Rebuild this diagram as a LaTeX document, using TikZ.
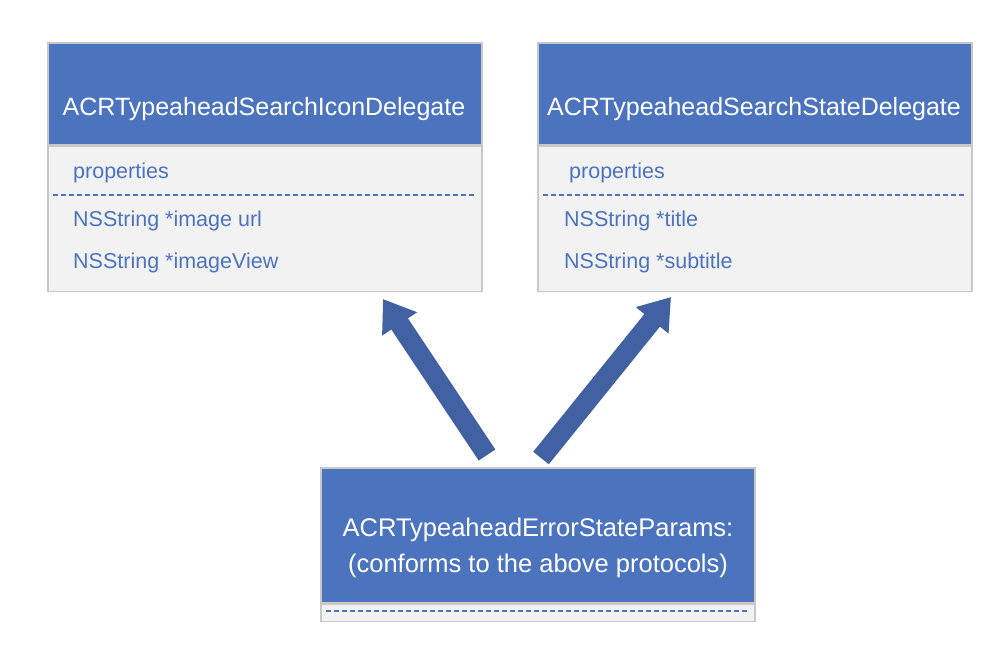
\documentclass[tikz,border=0pt]{standalone}
\usepackage{fontspec}
\setmainfont{Liberation Sans}
\usetikzlibrary{positioning,arrows.meta,calc}
\definecolor{protoblue}{RGB}{76,115,190}
\definecolor{protoarrow}{RGB}{66,97,162}
\definecolor{protogray}{RGB}{242,242,242}
\definecolor{protoedge}{RGB}{200,200,200}

\begin{document}
\begin{tikzpicture}[x=1pt,y=-1pt,
    head/.style={draw=protoedge,line width=1.5pt,fill=protoblue,
                 minimum width=434pt,minimum height=102pt,inner sep=0pt},
    body/.style={draw=protoedge,line width=1.5pt,fill=protogray,
                 minimum width=434pt,minimum height=145pt,inner sep=0pt},
    title/.style={text=white,font=\fontsize{25}{33}\selectfont,inner sep=0pt},
    prop/.style={text=protoblue,font=\fontsize{21.5}{26}\selectfont,
                 anchor=base west,inner sep=0pt},
    sep/.style={protoblue,dash pattern=on 5pt off 3pt,line width=1.8pt},
    conforms/.style={protoarrow,line width=20pt,
                     -{Triangle[width=40pt,length=30pt]}}]
    \useasboundingbox (0,0) rectangle (1008,648);
    % Protocol 1 (icon)
    \node[head,anchor=north west] (iconHead) at (47,42) {};
    \node[body,below=0pt of iconHead] (iconBody) {};
    \node[title,anchor=base] (iconTitle) at (264,115)
        {ACRTypeaheadSearchIconDelegate};
    \node[prop] (iconProps) at (73,178) {properties};
    \node[prop] (iconUrl) at (73,226) {NSString *image url};
    \node[prop] (iconView) at (73,268) {NSString *imageView};
    % Protocol 2 (state)
    \node[head,anchor=north west] (stateHead) at (537,42) {};
    \node[body,below=0pt of stateHead] (stateBody) {};
    \node[title,anchor=base] (stateTitle) at (754,115)
        {ACRTypeaheadSearchStateDelegate};
    \node[prop] (stateProps) at (569,178) {properties};
    \node[prop] (stateTitleProp) at (564,226) {NSString *title};
    \node[prop] (stateSubtitle) at (564,268) {NSString *subtitle};
    % Params
    \node[head,minimum height=135pt,anchor=north west] (errHead) at (320,467) {};
    \node[body,minimum height=17pt,below=0pt of errHead] (errBody) {};
    \node[title,align=center,font=\fontsize{25.5}{36}\selectfont] (errTitle)
        at (538,548)
        {ACRTypeaheadErrorStateParams:\\(conforms to the above protocols)};
    % separators
    \foreach \xa/\xb/\y in {53/476/195,543/966/195,326/749/611}{
        \draw[sep] (\xa,\y) -- (\xb,\y);
    }
    % conforms-to arrows
    \coordinate (errIconEnd) at (487,455);
    \coordinate (iconTip) at (383,299);
    \coordinate (errStateEnd) at (541,458);
    \coordinate (stateTip) at (671,297);
    \draw[conforms] (errIconEnd) -- (iconTip);
    \draw[conforms] (errStateEnd) -- (stateTip);
\end{tikzpicture}
\end{document}
